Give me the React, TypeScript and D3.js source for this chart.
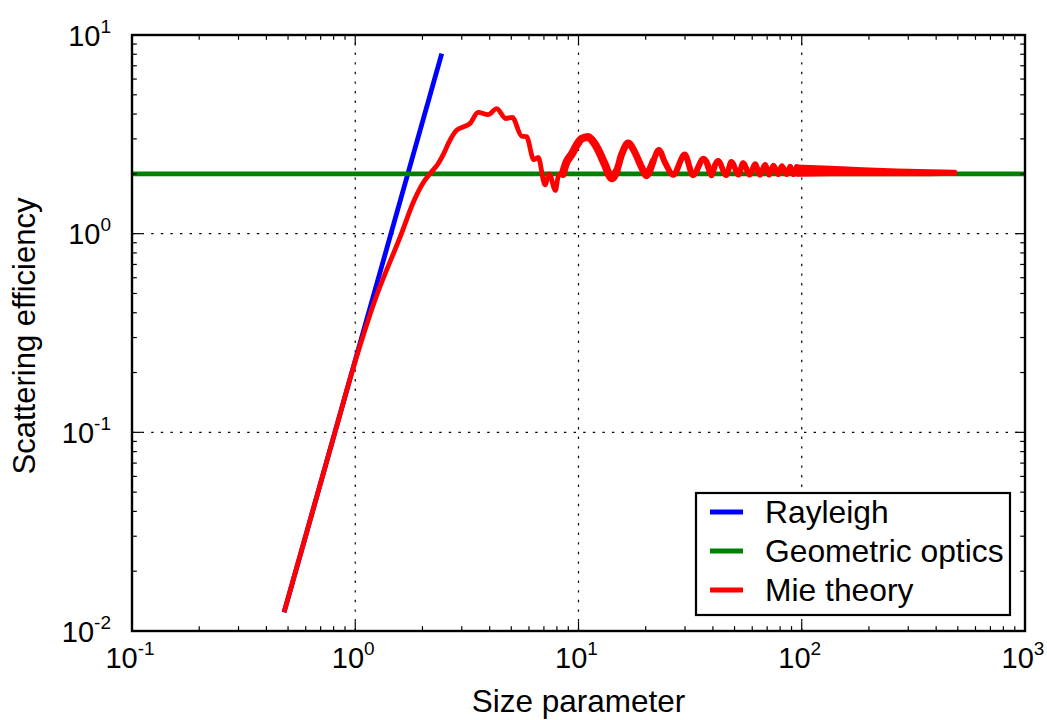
import React from 'react';
import * as d3 from 'd3';

const W = 1047;
const H = 720;
const PL = 132, PT = 35, PR = 1025, PB = 631;

// Axis definitions
const xDomain = [0.1, 1000];
const yDomain = [0.01, 10];
const xTickValues = [0.1, 1, 10, 100, 1000];
const xTickExps = ['-1', '0', '1', '2', '3'];
const yTickValues = [0.01, 0.1, 1, 10];
const yTickExps = ['-2', '-1', '0', '1'];
const xGridValues = [1, 10, 100];
const yGridValues = [0.1, 1];

// Series
const rayleighX = [0.48, 2.44];
const rayleighY = [0.0124, 8.06];

const geometricX = [0.1, 1000];
const geometricY = [2, 2];

const mieX = [
  0.48, 0.811, 1.0, 1.225, 1.61, 1.82, 2.0, 2.16, 2.35, 2.5, 2.61, 2.84, 3.05, 3.26,
  3.55, 3.94, 4.3, 4.72, 5.05, 5.56, 5.85, 6.3, 6.6, 7.08, 7.4, 7.88, 8.15, 8.5, 8.85,
  9.3, 9.8, 10.3, 11.0, 11.6, 12.3, 13.1, 14.1, 14.8, 15.6, 16.7, 17.9, 19.2, 20.1,
  21.6, 22.9, 24.4, 26.6, 29.9, 32.6, 36.3, 39.4, 42.2, 45.9, 48.4, 52.1, 54.6, 58.5,
  61.8, 65.0, 68.5, 71.5, 74.6, 78.5, 81.4, 85.6, 88.8, 91.6, 95.0,
];
const mieY = [
  0.01244, 0.1, 0.228, 0.462, 1.0, 1.44, 1.78, 2.0, 2.25, 2.55, 2.84, 3.31, 3.45, 3.58,
  4.08, 3.97, 4.26, 3.8, 3.85, 3.1, 3.08, 2.36, 2.42, 1.76, 2.0, 1.65, 1.98, 2.0, 2.3,
  2.5, 2.78, 3.0, 3.07, 2.92, 2.62, 2.24, 1.9, 2.06, 2.5, 2.86, 2.56, 2.15, 1.96,
  2.32, 2.64, 2.28, 1.98, 2.5, 1.97, 2.38, 1.97, 2.33, 1.97, 2.3, 1.98, 2.27, 1.98,
  2.24, 1.98, 2.22, 1.98, 2.2, 1.99, 2.19, 1.99, 2.18, 1.99, 2.17,
];

// Dense ripple tail (upper / lower envelope)
const mieTailX = [95, 134, 188, 266, 375, 485];
const mieTailUpper = [2.17, 2.14, 2.1, 2.07, 2.05, 2.04];
const mieTailLower = [1.99, 2.0, 2.0, 2.0, 2.0, 2.01];

// Apparent band thickness of the rippled Mie curve (x ranges and stroke px)
const mieBandRanges: [number, number, number][] = [
  [8.5, 14.8, 8],
  [14.1, 21.6, 7],
  [20.1, 40, 6],
  [39.4, 95, 5.6],
];

const legendItems = ['Rayleigh', 'Geometric optics', 'Mie theory'];
const legendColors = ['#0000ff', '#008000', '#ff0000'];

const FONT = "'Liberation Sans', Arial, Helvetica, sans-serif";

export default function App() {
  const x = d3.scaleLog().domain(xDomain).range([PL, PR]);
  const y = d3.scaleLog().domain(yDomain).range([PB, PT]);

  const line = d3
    .line<[number, number]>()
    .x((d) => x(d[0]))
    .y((d) => y(d[1]));
  const smooth = d3
    .line<[number, number]>()
    .x((d) => x(d[0]))
    .y((d) => y(d[1]))
    .curve(d3.curveMonotoneX);

  const miePts = mieX.map((v, i) => [v, mieY[i]]) as [number, number][];

  const rayleigh = line(rayleighX.map((v, i) => [v, rayleighY[i]]) as [number, number][]);
  const geometric = line(geometricX.map((v, i) => [v, geometricY[i]]) as [number, number][]);
  const mie = smooth(miePts);
  const tailArea = d3
    .area<number>()
    .x((d) => x(d))
    .y0((_, i) => y(mieTailLower[i]))
    .y1((_, i) => y(mieTailUpper[i]))(mieTailX);

  const isMajor = (v: number) => Math.abs(Math.log10(v) - Math.round(Math.log10(v))) < 1e-9;
  const xMinor = x.ticks().filter((v) => !isMajor(v));
  const yMinor = y.ticks().filter((v) => !isMajor(v));

  const MAJ = 9.6;
  const MIN = 4.8;
  const tickW = 1.2;

  return (
    <svg
      width={W}
      height={H}
      style={{ position: 'absolute', left: 0, top: 0, display: 'block', background: '#fff' }}
      fontFamily={FONT}
    >
      <defs>
        <clipPath id="plotclip">
          <rect x={PL} y={PT} width={PR - PL} height={PB - PT} />
        </clipPath>
      </defs>
      <rect x={0} y={0} width={W} height={H} fill="#fff" />

      {/* grid */}
      <g stroke="#000" strokeWidth={1.2} strokeDasharray="2.4,7.2">
        {xGridValues.map((v) => (
          <line key={'gx' + v} x1={x(v)} x2={x(v)} y1={PB} y2={PT} />
        ))}
        {yGridValues.map((v) => (
          <line key={'gy' + v} x1={PL} x2={PR} y1={y(v)} y2={y(v)} />
        ))}
      </g>

      {/* data */}
      <g clipPath="url(#plotclip)" fill="none" strokeWidth={4.8}>
        <path d={rayleigh || ''} stroke="#0000ff" />
        <path d={geometric || ''} stroke="#008000" />
        <path d={mie || ''} stroke="#ff0000" strokeLinejoin="round" />
        {mieBandRanges.map(([a, b, w]) => (
          <path
            key={'band' + a}
            d={smooth(miePts.filter((p) => p[0] >= a && p[0] <= b)) || ''}
            stroke="#ff0000"
            strokeWidth={w}
            strokeLinejoin="round"
            strokeLinecap="round"
          />
        ))}
        <path d={tailArea || ''} stroke="#ff0000" fill="#ff0000" strokeLinejoin="round" strokeLinecap="round" />
      </g>

      {/* ticks */}
      <g stroke="#000" strokeWidth={tickW}>
        {xTickValues.map((v) => (
          <g key={'xt' + v}>
            <line x1={x(v)} x2={x(v)} y1={PB} y2={PB - MAJ} />
            <line x1={x(v)} x2={x(v)} y1={PT} y2={PT + MAJ} />
          </g>
        ))}
        {xMinor.map((v) => (
          <g key={'xm' + v}>
            <line x1={x(v)} x2={x(v)} y1={PB} y2={PB - MIN} />
            <line x1={x(v)} x2={x(v)} y1={PT} y2={PT + MIN} />
          </g>
        ))}
        {yTickValues.map((v) => (
          <g key={'yt' + v}>
            <line x1={PL} x2={PL + MAJ} y1={y(v)} y2={y(v)} />
            <line x1={PR} x2={PR - MAJ} y1={y(v)} y2={y(v)} />
          </g>
        ))}
        {yMinor.map((v) => (
          <g key={'ym' + v}>
            <line x1={PL} x2={PL + MIN} y1={y(v)} y2={y(v)} />
            <line x1={PR} x2={PR - MIN} y1={y(v)} y2={y(v)} />
          </g>
        ))}
      </g>

      {/* frame */}
      <rect x={PL} y={PT} width={PR - PL} height={PB - PT} fill="none" stroke="#000" strokeWidth={2.4} />

      {/* tick labels */}
      <g fill="#000">
        {xTickValues.map((v, i) => (
          <text key={'xl' + v} x={x(v) - 2} y={668} textAnchor="middle" fontSize={29}>
            <tspan>10</tspan>
            <tspan dy={-13} fontSize={19}>
              {xTickExps[i]}
            </tspan>
          </text>
        ))}
        {yTickValues.map((v, i) => (
          <text key={'yl' + v} x={111} y={y(v) + 10.5} textAnchor="end" fontSize={29}>
            <tspan>10</tspan>
            <tspan dy={-13} fontSize={19}>
              {yTickExps[i]}
            </tspan>
          </text>
        ))}
      </g>

      {/* axis titles */}
      <text x={(PL + PR) / 2} y={712} textAnchor="middle" fontSize={31.5}>
        Size parameter
      </text>
      <text
        transform={`translate(35, ${(PT + PB) / 2 + 3}) rotate(-90)`}
        textAnchor="middle"
        fontSize={31}
      >
        Scattering efficiency
      </text>

      {/* legend */}
      <g>
        <rect x={696} y={493} width={314} height={122} fill="#fff" stroke="#000" strokeWidth={2.2} />
        {legendItems.map((name, i) => (
          <g key={name}>
            <line x1={710} x2={743} y1={512 + i * 39} y2={512 + i * 39} stroke={legendColors[i]} strokeWidth={4.8} />
            <text x={765} y={523 + i * 39} fontSize={31.8}>
              {name}
            </text>
          </g>
        ))}
      </g>
    </svg>
  );
}
